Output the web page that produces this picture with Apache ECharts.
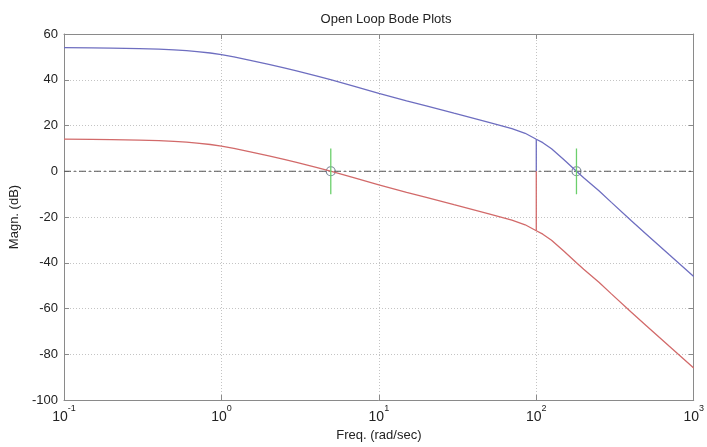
<!DOCTYPE html>
<html>
<head>
<meta charset="utf-8">
<script src="https://cdn.jsdelivr.net/npm/echarts@6/dist/echarts.min.js"></script>
<style>
  html, body { margin: 0; padding: 0; background: #fff; }
  #chart { width: 707px; height: 447px; }
</style>
</head>
<body>
<div id="chart"></div>
<script>
// frequencies (rad/sec)
const freq = [0.1, 0.15, 0.2, 0.3, 0.4, 0.5, 0.6, 0.7, 0.85, 1, 1.2, 1.5, 2, 2.5, 3, 4, 5, 7, 10, 15, 20, 30, 50, 70, 85, 100,
  110, 125, 150, 180, 200, 250, 300, 400, 500, 700, 1000];
// upper (blue) magnitude curve, dB
const blueMag = [54, 53.9, 53.8, 53.6, 53.4, 53.1, 52.7, 52.3, 51.7, 51, 50, 48.6, 46.7, 45.2, 43.9, 41.7, 39.9, 37.1, 34, 30.8, 28.6, 25.4, 21.4, 18.6, 16.6, 14,
  12.5, 9.8, 5, 0, -2.8, -8.5, -13.6, -21.5, -27.5, -36.5, -46];
// lower (red) magnitude curve, dB
const redMag = [14, 13.9, 13.8, 13.6, 13.4, 13.1, 12.7, 12.3, 11.7, 11, 10, 8.6, 6.7, 5.2, 3.9, 1.7, -0.1, -2.9, -6, -9.2, -11.4, -14.6, -18.6, -21.4, -23.4, -26,
  -27.5, -30.2, -35, -40, -42.8, -48.5, -53.6, -61.5, -67.5, -76.5, -86];
// vertical steps at 100 rad/sec
const blueStep = [[100, 14], [100, 0]];
const redStep = [[100, 0], [100, -26]];
// crossover markers
const crossFreq = [4.95, 180];
const markerHalf = 10;
const zeroLine = [[0.1, 0], [1000, 0]];

const yTicks = { min: -100, max: 60, interval: 20 };

const chart = echarts.init(document.getElementById('chart'));

const pairs = (ys) => freq.map((f, i) => [f, ys[i]]);
const greenData = [];
crossFreq.forEach((f, i) => {
  if (i > 0) greenData.push('-');
  greenData.push([f, -markerHalf], [f, markerHalf]);
});

const frame = '#8a8a8a';
const txt = '#222';
const font = 'Liberation Sans, Arial, sans-serif';
const blue = '#6e6ec0';
const red = '#d26a6a';

const xBase = {
  type: 'log',
  logBase: 10,
  min: 0.1,
  max: 1000,
  axisLine: { show: true, onZero: false, lineStyle: { color: frame } },
  axisTick: { show: true, inside: true, length: 5, lineStyle: { color: frame } },
  minorTick: { show: false }
};
const yBase = {
  type: 'value',
  min: yTicks.min,
  max: yTicks.max,
  interval: yTicks.interval,
  axisLine: { show: true, lineStyle: { color: frame } },
  axisTick: { show: true, inside: true, length: 5, lineStyle: { color: frame } }
};

const option = {
  animation: false,
  backgroundColor: '#fff',
  textStyle: { fontFamily: font },
  title: {
    text: 'Open Loop Bode Plots',
    left: 381,
    top: 8,
    textAlign: 'center',
    textStyle: { fontSize: 13, fontWeight: 'normal', color: txt, fontFamily: font }
  },
  grid: { left: 64, right: 10, top: 34, bottom: 44, containLabel: false },
  xAxis: [
    Object.assign({}, xBase, {
      position: 'bottom',
      name: 'Freq. (rad/sec)',
      nameLocation: 'middle',
      nameGap: 29,
      nameTextStyle: { fontSize: 13, color: txt },
      axisLabel: {
        margin: 4,
        formatter: (v) => '{b|10}{e|' + Math.round(Math.log10(v)) + '}',
        rich: {
          b: { fontSize: 14, color: txt, lineHeight: 20, verticalAlign: 'bottom' },
          e: { fontSize: 9, color: txt, lineHeight: 9, verticalAlign: 'top' }
        }
      },
      splitLine: { show: true, lineStyle: { color: '#c4c4c4', type: [1, 2] } }
    }),
    Object.assign({}, xBase, {
      position: 'top',
      axisLabel: { show: false },
      splitLine: { show: false }
    })
  ],
  yAxis: [
    Object.assign({}, yBase, {
      position: 'left',
      name: 'Magn. (dB)',
      nameLocation: 'middle',
      nameGap: 37,
      nameTextStyle: { fontSize: 13, color: txt },
      axisLabel: { fontSize: 13, color: txt, margin: 6 },
      splitLine: { show: true, lineStyle: { color: '#c4c4c4', type: [1, 2] } }
    }),
    Object.assign({}, yBase, {
      position: 'right',
      axisLabel: { show: false },
      splitLine: { show: false }
    })
  ],
  series: [
    {
      name: 'zero',
      type: 'line',
      data: zeroLine,
      showSymbol: false,
      silent: true,
      lineStyle: { color: '#555', width: 1, type: [7, 3, 2, 3] }
    },
    {
      name: 'upper',
      type: 'line',
      data: pairs(blueMag),
      showSymbol: false,
      lineStyle: { color: blue, width: 1.3 }
    },
    {
      name: 'lower',
      type: 'line',
      data: pairs(redMag),
      showSymbol: false,
      lineStyle: { color: red, width: 1.3 }
    },
    {
      name: 'upperStep',
      type: 'line',
      data: blueStep,
      showSymbol: false,
      lineStyle: { color: blue, width: 1.3 }
    },
    {
      name: 'lowerStep',
      type: 'line',
      data: redStep,
      showSymbol: false,
      lineStyle: { color: red, width: 1.3 }
    },
    {
      name: 'crossLines',
      type: 'line',
      data: greenData,
      showSymbol: false,
      connectNulls: false,
      lineStyle: { color: '#6ccf6c', width: 1.3 }
    },
    {
      name: 'crossPoints',
      type: 'scatter',
      data: crossFreq.map((f) => [f, 0]),
      symbol: 'circle',
      symbolSize: 9,
      itemStyle: { color: 'rgba(0,0,0,0)', borderColor: '#5a6a80', borderWidth: 1.2 }
    }
  ]
};

chart.setOption(option);
</script>
</body>
</html>
